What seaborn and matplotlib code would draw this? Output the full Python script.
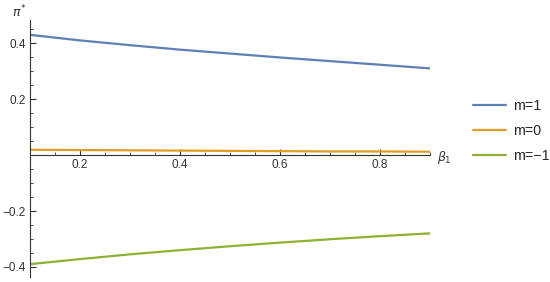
import matplotlib
matplotlib.use("Agg")
import matplotlib.pyplot as plt
import seaborn as sns
import pandas as pd
from matplotlib.ticker import MultipleLocator

beta1 = [0.1, 0.2, 0.3, 0.4, 0.5, 0.6, 0.7, 0.8, 0.9]
pi_m1 = [0.430, 0.410, 0.393, 0.377, 0.363, 0.349, 0.336, 0.323, 0.310]
pi_m0 = [0.019, 0.018, 0.017, 0.016, 0.015, 0.014, 0.013, 0.013, 0.012]
pi_mneg1 = [-0.390, -0.372, -0.355, -0.340, -0.326, -0.313, -0.301, -0.290, -0.280]
series_labels = ["m=1", "m=0", "m=\u22121"]
colors = ["#5E81B5", "#E19C24", "#8FB032"]

rows = []
for lab, vals in zip(series_labels, [pi_m1, pi_m0, pi_mneg1]):
    for x, y in zip(beta1, vals):
        rows.append({"beta1": x, "pi": y, "m": lab})
df = pd.DataFrame(rows)

sns.set_style("white")
plt.rcParams['font.family'] = ['Liberation Sans', 'DejaVu Sans']

fig = plt.figure(figsize=(5.5, 2.82), dpi=100)
ax = fig.add_axes([30/550, 5/282, 400/550, 257/282])

sns.lineplot(data=df, x="beta1", y="pi", hue="m", palette=colors,
             hue_order=series_labels, linewidth=1.6, ax=ax, legend=True)

ax.set_xlim(0.1, 0.9)
ax.set_ylim(-0.436, 0.483)
ax.spines['top'].set_visible(False)
ax.spines['right'].set_visible(False)
ax.spines['bottom'].set_position(('data', 0))
ax.spines['left'].set_position(('data', 0.1))
for s in ['bottom', 'left']:
    ax.spines[s].set_color('#333333')
    ax.spines[s].set_linewidth(0.8)

ax.xaxis.set_major_locator(MultipleLocator(0.2))
ax.xaxis.set_minor_locator(MultipleLocator(0.05))
ax.yaxis.set_major_locator(MultipleLocator(0.2))
ax.yaxis.set_minor_locator(MultipleLocator(0.05))
ax.set_xticks([0.2, 0.4, 0.6, 0.8])
ax.set_xticklabels(["0.2", "0.4", "0.6", "0.8"])
ax.set_yticks([-0.4, -0.2, 0.2, 0.4])
ax.set_yticklabels(["\u22120.4", "\u22120.2", "0.2", "0.4"])
ax.tick_params(which='major', direction='in', length=4, width=0.8,
               color='#333333', labelsize=8.5, labelcolor='#333333', pad=3)
ax.tick_params(which='minor', direction='in', length=2.5, width=0.6,
               color='#333333')
ax.tick_params(axis='x', which='both', bottom=True, top=False)
ax.tick_params(axis='y', which='both', left=True, right=False)

ax.set_xlabel("")
ax.set_ylabel("")
fig.text(19/550, 1 - 12/282, r"$\pi^{*}$", fontsize=9, color='#333333',
         ha='center', va='center')
fig.text(444/550, 1 - 157/282, r"$\beta_1$", fontsize=9, color='#333333',
         ha='center', va='center')

handles, labels = ax.get_legend_handles_labels()
ax.legend(handles, labels, loc='center left', bbox_to_anchor=(473/550, 1 - 131/282),
          bbox_transform=fig.transFigure, frameon=False, fontsize=10.3,
          handlelength=2.3, labelspacing=0.8, handletextpad=0.5,
          borderpad=0.0, borderaxespad=0.0)

fig.savefig("out.png", dpi=100)
